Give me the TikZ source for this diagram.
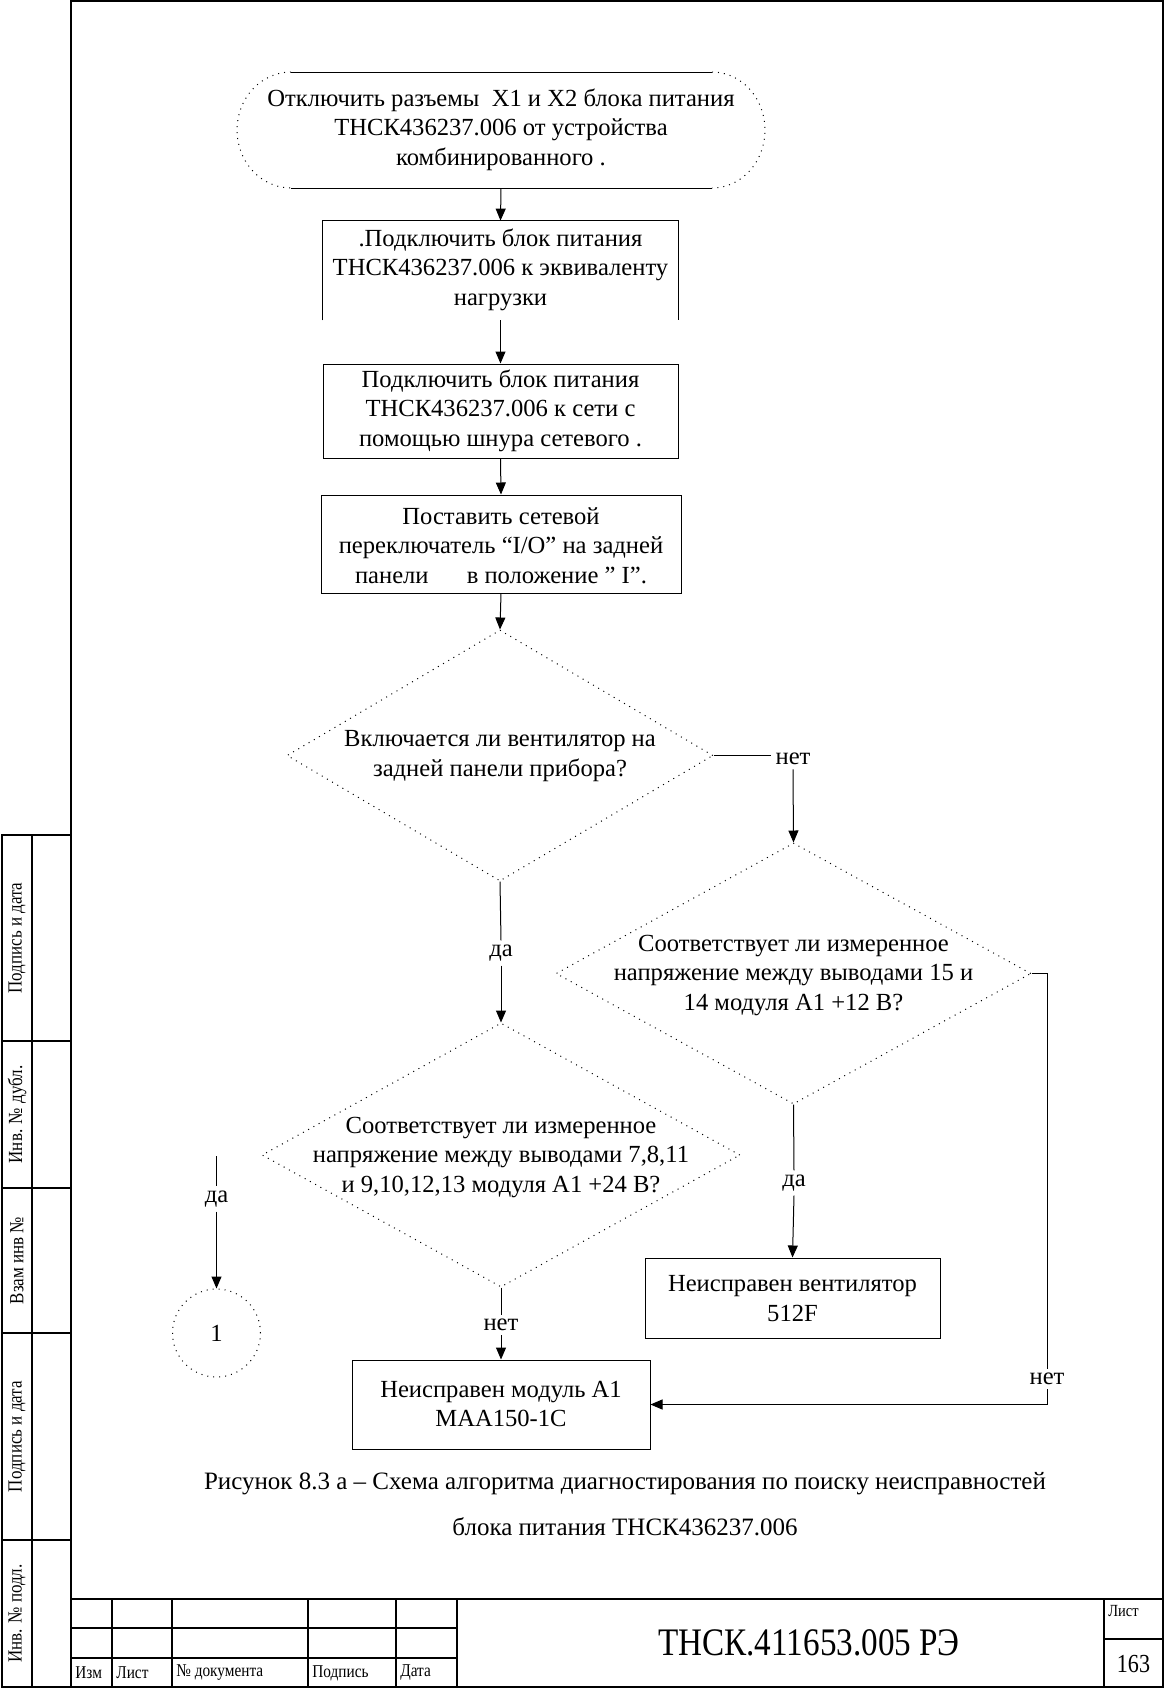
\documentclass[tikz,border=0pt]{standalone}
\usepackage{fontspec}
\setmainfont{Liberation Serif}
\newfontfamily\serfont{Liberation Serif}
\newfontfamily\narrowfont[FakeStretch=0.85]{Liberation Serif}
\usetikzlibrary{arrows.meta,shapes.geometric}
\begin{document}
\begin{tikzpicture}[x=0.5pt,y=-0.5pt,
  txt/.style={font=\serfont\fontsize{12.3}{14.75}\selectfont, align=center, inner sep=0pt},
  lbl/.style={font=\serfont\fontsize{12.3}{14}\selectfont, inner sep=2pt},
  boxs/.style={draw, rectangle, line width=0.5pt, inner sep=0pt},
  hidden/.style={rectangle, inner sep=0pt},
  dia/.style={draw, diamond, line width=0.5pt, dash pattern=on 0.5pt off 2.5pt, inner sep=0pt},
  dotline/.style={line width=0.5pt, dash pattern=on 0.5pt off 2.5pt},
  line/.style={line width=0.5pt},
  arr/.style={line width=0.5pt, -{Triangle[length=6pt,width=5pt]}},
  frame/.style={line width=1.25pt},
  mid/.style={line width=0.9pt},
  thin/.style={line width=0.6pt},
  small/.style={font=\narrowfont\fontsize{9}{10}\selectfont, inner sep=1pt},
  side/.style={font=\narrowfont\fontsize{10}{11}\selectfont, inner sep=0pt, rotate=90},
]
\useasboundingbox (0,0) rectangle (1165,1688);

% ---------- page frame ----------
\draw[frame] (71,1) rectangle (1163,1687);
% left strip
\draw[frame] (71,835) -- (2,835) -- (2,1687) -- (71,1687);
\draw[mid] (32,835) -- (32,1687);
\foreach \yy in {1041,1188,1333,1540} \draw[mid] (2,\yy) -- (71,\yy);
\node[side] (s1) at (17,938) {Подпись и дата};
\node[side] (s2) at (17,1114.5) {Инв. № дубл.};
\node[side] (s3) at (17,1260.5) {Взам инв №};
\node[side] (s4) at (17,1436.5) {Подпись и дата};
\node[side] (s5) at (17,1613.5) {Инв. № подл.};

% title block
\draw[frame] (71,1599) -- (1163,1599);
\foreach \xx in {112,172,308,396} \draw[mid] (\xx,1599) -- (\xx,1687);
\draw[frame] (457,1599) -- (457,1687);
\draw[frame] (1104,1599) -- (1104,1687);
\draw[thin] (71,1628) -- (457,1628);
\draw[mid] (71,1658) -- (457,1658);
\draw[mid] (1104,1639) -- (1163,1639);
\node[small, anchor=west] (t1) at (73,1673) {Изм};
\node[small, anchor=west] (t2) at (114,1673) {Лист};
\node[small, anchor=west] (t3) at (174,1673) {№ документа};
\node[small, anchor=west] (t4) at (310,1673) {Подпись};
\node[small, anchor=west] (t5) at (398,1673) {Дата};
\node[font=\narrowfont\fontsize{19.5}{21}\selectfont] (code) at (809,1643) {ТНСК.411653.005 РЭ};
\node[small, anchor=north west, font=\narrowfont\fontsize{8.5}{9}\selectfont] (lst) at (1106,1603) {Лист};
\node[font=\narrowfont\fontsize{13}{14}\selectfont] (page) at (1133.5,1664) {163};

% ---------- flowchart ----------
% terminal
\node[hidden, minimum width=264pt, minimum height=58pt] (term) at (501,130) {};
\draw[line] (291,72) -- (712,72);
\draw[line] (291,188) -- (712,188);
\draw[dotline] (291,72) arc[start angle=90, end angle=270, x radius=27pt, y radius=29pt];
\draw[dotline] (712,72) arc[start angle=90, end angle=-90, x radius=26.5pt, y radius=29pt];
\node[txt] (termtxt) at (501,129.5) {Отключить разъемы \ X1 и X2 блока питания\\ТНСК436237.006 от устройства\\комбинированного .};

% box 1 (open at the bottom)
\node[hidden, minimum width=177.5pt, minimum height=49.5pt] (b1) at (500.5,270.5) {};
\draw[line] (b1.south west) -- (b1.north west) -- (b1.north east) -- (b1.south east);
\node[txt] (b1txt) at (500.5,269.5) {.Подключить блок питания\\ТНСК436237.006 к эквиваленту\\нагрузки};

% box 2
\node[boxs, minimum width=177.5pt, minimum height=47pt] (b2) at (500.5,411) {};
\node[txt] (b2txt) at (500.5,410.5) {Подключить блок питания\\ТНСК436237.006 к сети с\\помощью шнура сетевого .};

% box 3
\node[boxs, minimum width=180pt, minimum height=49pt] (b3) at (501,544) {};
\node[txt] (b3txt) at (501,545.5) {Поставить сетевой\\переключатель “I/O” на задней\\панели\hspace{1.3em} в положение ” I”.};

% diamond 1
\node[dia, minimum width=213pt, minimum height=125.5pt] (d1) at (500,755.5) {};
\node[txt] (d1txt) at (500,756) {Включается ли вентилятор на\\задней панели прибора?};

% diamond 2 (right)
\node[dia, minimum width=237.5pt, minimum height=130.5pt] (d2) at (793.5,973.5) {};
\node[txt] (d2txt) at (793.5,975) {Соответствует ли измеренное\\напряжение между выводами 15 и\\14 модуля А1 +12 В?};

% diamond 3 (left)
\node[dia, minimum width=239pt, minimum height=132pt] (d3) at (501,1155) {};
\node[txt] (d3txt) at (501,1157) {Соответствует ли измеренное\\напряжение между выводами 7,8,11\\и 9,10,12,13 модуля А1 +24 В?};

% fan box
\node[boxs, minimum width=147.5pt, minimum height=40pt] (fan) at (792.5,1298) {};
\node[txt] (fantxt) at (792.5,1298.5) {Неисправен вентилятор\\512F};

% module box
\node[boxs, minimum width=149pt, minimum height=44.5pt] (mod) at (501,1404.5) {};
\node[txt] (modtxt) at (501,1404) {Неисправен модуль А1\\МАА150-1С};

% connector circle
\node[draw, circle, dotline, minimum size=44pt, inner sep=0pt, font=\serfont\fontsize{12.3}{14}\selectfont] (c1) at (216.5,1333) {1};

% labels
\node[lbl] (net1) at (793,759) {нет};
\node[lbl] (da1) at (501,953) {да};
\node[lbl] (da2) at (794,1183) {да};
\node[lbl] (net2) at (501,1325) {нет};
\node[lbl] (net3) at (1047,1379) {нет};
\node[lbl] (da3) at (216.5,1199) {да};
\coordinate (dastart) at (216.5,1156);

% connectors
\draw[arr] (term.south) -- (b1.north);
\draw[arr] (b1.south) -- (b2.north);
\draw[arr] (b2.south) -- (b3.north);
\draw[arr] (b3.south) -- (d1.north);
\draw[line] (d1.east) -- (d1.east -| net1.west);
\draw[arr] (net1.south) -- (d2.north);
\draw[line] (d1.south) -- (da1.north);
\draw[arr] (da1.south) -- (d3.north);
\draw[line] (d2.south) -- (da2.north);
\draw[arr] (da2.south) -- (fan.north);
\draw[line] (d2.east) -| (net3.north);
\draw[arr] (net3.south) |- (mod.east);
\draw[line] (d3.south) -- (net2.north);
\draw[arr] (net2.south) -- (mod.north);
\draw[line] (dastart) -- (da3.north);
\draw[arr] (da3.south) -- (c1.north);

% caption
\node[font=\serfont\fontsize{12.5}{14}\selectfont, inner sep=0pt] (cap1) at (625,1484) {Рисунок 8.3 а – Схема алгоритма диагностирования по поиску неисправностей};
\node[font=\serfont\fontsize{12.5}{14}\selectfont, inner sep=0pt] (cap2) at (625,1527) {блока питания ТНСК436237.006};
\end{tikzpicture}
\end{document}
